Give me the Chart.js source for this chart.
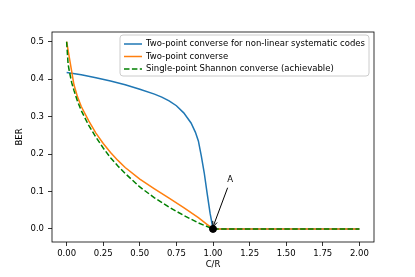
<!DOCTYPE html>
<html>
<head>
<meta charset="utf-8">
<script src="https://cdn.jsdelivr.net/npm/chart.js@4/dist/chart.umd.min.js"></script>
<style>
  html, body { margin: 0; padding: 0; background: #ffffff; }
  #wrap { width: 415px; height: 277px; }
</style>
</head>
<body>
<div id="wrap"><canvas id="berChart" width="415" height="277"></canvas></div>
<script>
// values
const crSystematic = [0, 0.1, 0.2, 0.3, 0.4, 0.5, 0.6, 0.65, 0.7, 0.75, 0.8, 0.85, 0.88, 0.9, 0.92, 0.94, 0.96, 0.98, 1.0, 2.0];
const berSystematic = [0.418, 0.412, 0.404, 0.395, 0.385, 0.373, 0.36, 0.352, 0.342, 0.329, 0.31, 0.283, 0.258, 0.235, 0.195, 0.15, 0.095, 0.042, 0, 0];

const crTwoPoint = [0, 0.05, 0.075, 0.1, 0.15, 0.2, 0.25, 0.3, 0.35, 0.4, 0.5, 0.6, 0.7, 0.8, 0.9, 0.95, 1.0, 2.0];
const berTwoPoint = [0.5, 0.385, 0.352, 0.327, 0.289, 0.256, 0.228, 0.204, 0.183, 0.164, 0.133, 0.107, 0.082, 0.057, 0.03, 0.015, 0, 0];

const crShannon = [0, 0.01, 0.02, 0.035, 0.05, 0.075, 0.1, 0.15, 0.2, 0.25, 0.3, 0.35, 0.4, 0.45, 0.5, 0.6, 0.7, 0.8, 0.9, 1.0, 2.0];
const berShannon = [0.5, 0.44, 0.418, 0.39, 0.37, 0.34, 0.316, 0.277, 0.245, 0.216, 0.19, 0.168, 0.148, 0.13, 0.112, 0.083, 0.058, 0.036, 0.016, 0, 0];

const pointA = { x: 1.0, y: 0 };
const labelA = { text: 'A', x: 1.118, y: 0.132, arrowX: 1.1, arrowY: 0.11 };

const xTicks = [0, 0.25, 0.5, 0.75, 1.0, 1.25, 1.5, 1.75, 2.0];
const yTicks = [0, 0.1, 0.2, 0.3, 0.4, 0.5];

const labels = [
    'Two-point converse for non-linear systematic codes',
    'Two-point converse',
    'Single-point Shannon converse (achievable)',
];

const colors = {
    blue: '#1f77b4',
    orange: '#ff7f0e',
    green: '#008000',
    text: '#000000',
};

const FONT = '"DejaVu Sans", sans-serif';

function toPoints(xs, ys) {
    return xs.map((x, i) => ({ x: x, y: ys[i] }));
}

// box around axes, legend and the "A" annotation
const decorations = {
    id: 'decorations',
    afterDatasetsDraw(chart) {
        const { ctx, chartArea: a, scales: { x, y } } = chart;
        ctx.save();

        // annotation arrow
        const x0 = x.getPixelForValue(labelA.arrowX), y0 = y.getPixelForValue(labelA.arrowY);
        const x1 = x.getPixelForValue(pointA.x), y1 = y.getPixelForValue(pointA.y) - 2;
        ctx.strokeStyle = '#000';
        ctx.lineWidth = 1;
        ctx.beginPath();
        ctx.moveTo(x0, y0);
        ctx.lineTo(x1, y1);
        const ang = Math.atan2(y1 - y0, x1 - x0);
        ctx.moveTo(x1 - 6 * Math.cos(ang - 0.4), y1 - 6 * Math.sin(ang - 0.4));
        ctx.lineTo(x1, y1);
        ctx.lineTo(x1 - 6 * Math.cos(ang + 0.4), y1 - 6 * Math.sin(ang + 0.4));
        ctx.stroke();

        ctx.fillStyle = colors.text;
        ctx.font = '8.5px ' + FONT;
        ctx.textAlign = 'center';
        ctx.textBaseline = 'middle';
        ctx.fillText(labelA.text, x.getPixelForValue(labelA.x), y.getPixelForValue(labelA.y));

        // frame
        ctx.strokeStyle = '#000';
        ctx.lineWidth = 0.8;
        ctx.strokeRect(a.left, a.top, a.right - a.left, a.bottom - a.top);

        // legend
        const lx = 120, ly = 35, lw = 249, lh = 41, r = 3;
        ctx.beginPath();
        ctx.moveTo(lx + r, ly);
        ctx.arcTo(lx + lw, ly, lx + lw, ly + lh, r);
        ctx.arcTo(lx + lw, ly + lh, lx, ly + lh, r);
        ctx.arcTo(lx, ly + lh, lx, ly, r);
        ctx.arcTo(lx, ly, lx + lw, ly, r);
        ctx.closePath();
        ctx.fillStyle = 'rgba(255,255,255,0.8)';
        ctx.fill();
        ctx.strokeStyle = '#cccccc';
        ctx.lineWidth = 1;
        ctx.stroke();

        const rows = [44, 56.5, 69];
        chart.data.datasets.slice(0, 3).forEach((ds, i) => {
            ctx.strokeStyle = ds.borderColor;
            ctx.lineWidth = ds.borderWidth;
            ctx.setLineDash(ds.borderDash || []);
            ctx.beginPath();
            ctx.moveTo(124, rows[i]);
            ctx.lineTo(142, rows[i]);
            ctx.stroke();
            ctx.setLineDash([]);
            ctx.fillStyle = colors.text;
            ctx.textAlign = 'left';
            ctx.fillText(ds.label, 146, rows[i]);
        });
        ctx.restore();
    }
};

function lineSet(label, xs, ys, color, order, dash) {
    return {
        label: label,
        data: toPoints(xs, ys),
        borderColor: color,
        backgroundColor: color,
        borderWidth: 1.5,
        borderDash: dash || [],
        pointRadius: 0,
        showLine: true,
        fill: false,
        tension: 0,
        order: order,
    };
}

const tickFont = { family: FONT, size: 8.5 };

new Chart(document.getElementById('berChart'), {
    type: 'scatter',
    data: {
        datasets: [
            lineSet(labels[0], crSystematic, berSystematic, colors.blue, 3),
            lineSet(labels[1], crTwoPoint, berTwoPoint, colors.orange, 2),
            lineSet(labels[2], crShannon, berShannon, colors.green, 1, [5.5, 2.4]),
            {
                label: 'A',
                data: [pointA],
                pointRadius: 3.5,
                pointBackgroundColor: '#000',
                pointBorderColor: '#000',
                showLine: false,
                order: 0,
            },
        ]
    },
    options: {
        responsive: false,
        animation: false,
        devicePixelRatio: 1,
        layout: { padding: { left: 0, right: 41, top: 32, bottom: 0 } },
        plugins: {
            legend: { display: false },
            tooltip: { enabled: false },
        },
        scales: {
            x: {
                type: 'linear',
                min: -0.1,
                max: 2.1,
                afterBuildTicks: (s) => { s.ticks = xTicks.map(v => ({ value: v })); },
                afterFit: (s) => { s.height = 35; },
                border: { display: false },
                grid: { drawOnChartArea: false, drawTicks: true, tickLength: 4, color: '#000', lineWidth: 0.8 },
                ticks: {
                    color: colors.text, font: tickFont, padding: 3, maxRotation: 0,
                    callback: (v) => Number(v).toFixed(2),
                },
                title: { display: true, text: 'C/R', color: colors.text, font: tickFont, padding: { top: 0, bottom: 7 } },
            },
            y: {
                type: 'linear',
                min: -0.035,
                max: 0.526,
                afterBuildTicks: (s) => { s.ticks = yTicks.map(v => ({ value: v })); },
                afterFit: (s) => { s.width = 52; },
                border: { display: false },
                grid: { drawOnChartArea: false, drawTicks: true, tickLength: 4, color: '#000', lineWidth: 0.8 },
                ticks: {
                    color: colors.text, font: tickFont, padding: 4,
                    callback: (v) => Number(v).toFixed(1),
                },
                title: { display: true, text: 'BER', color: colors.text, font: tickFont, padding: { top: 15, bottom: 0 } },
            }
        }
    },
    plugins: [decorations]
});
</script>
</body>
</html>
